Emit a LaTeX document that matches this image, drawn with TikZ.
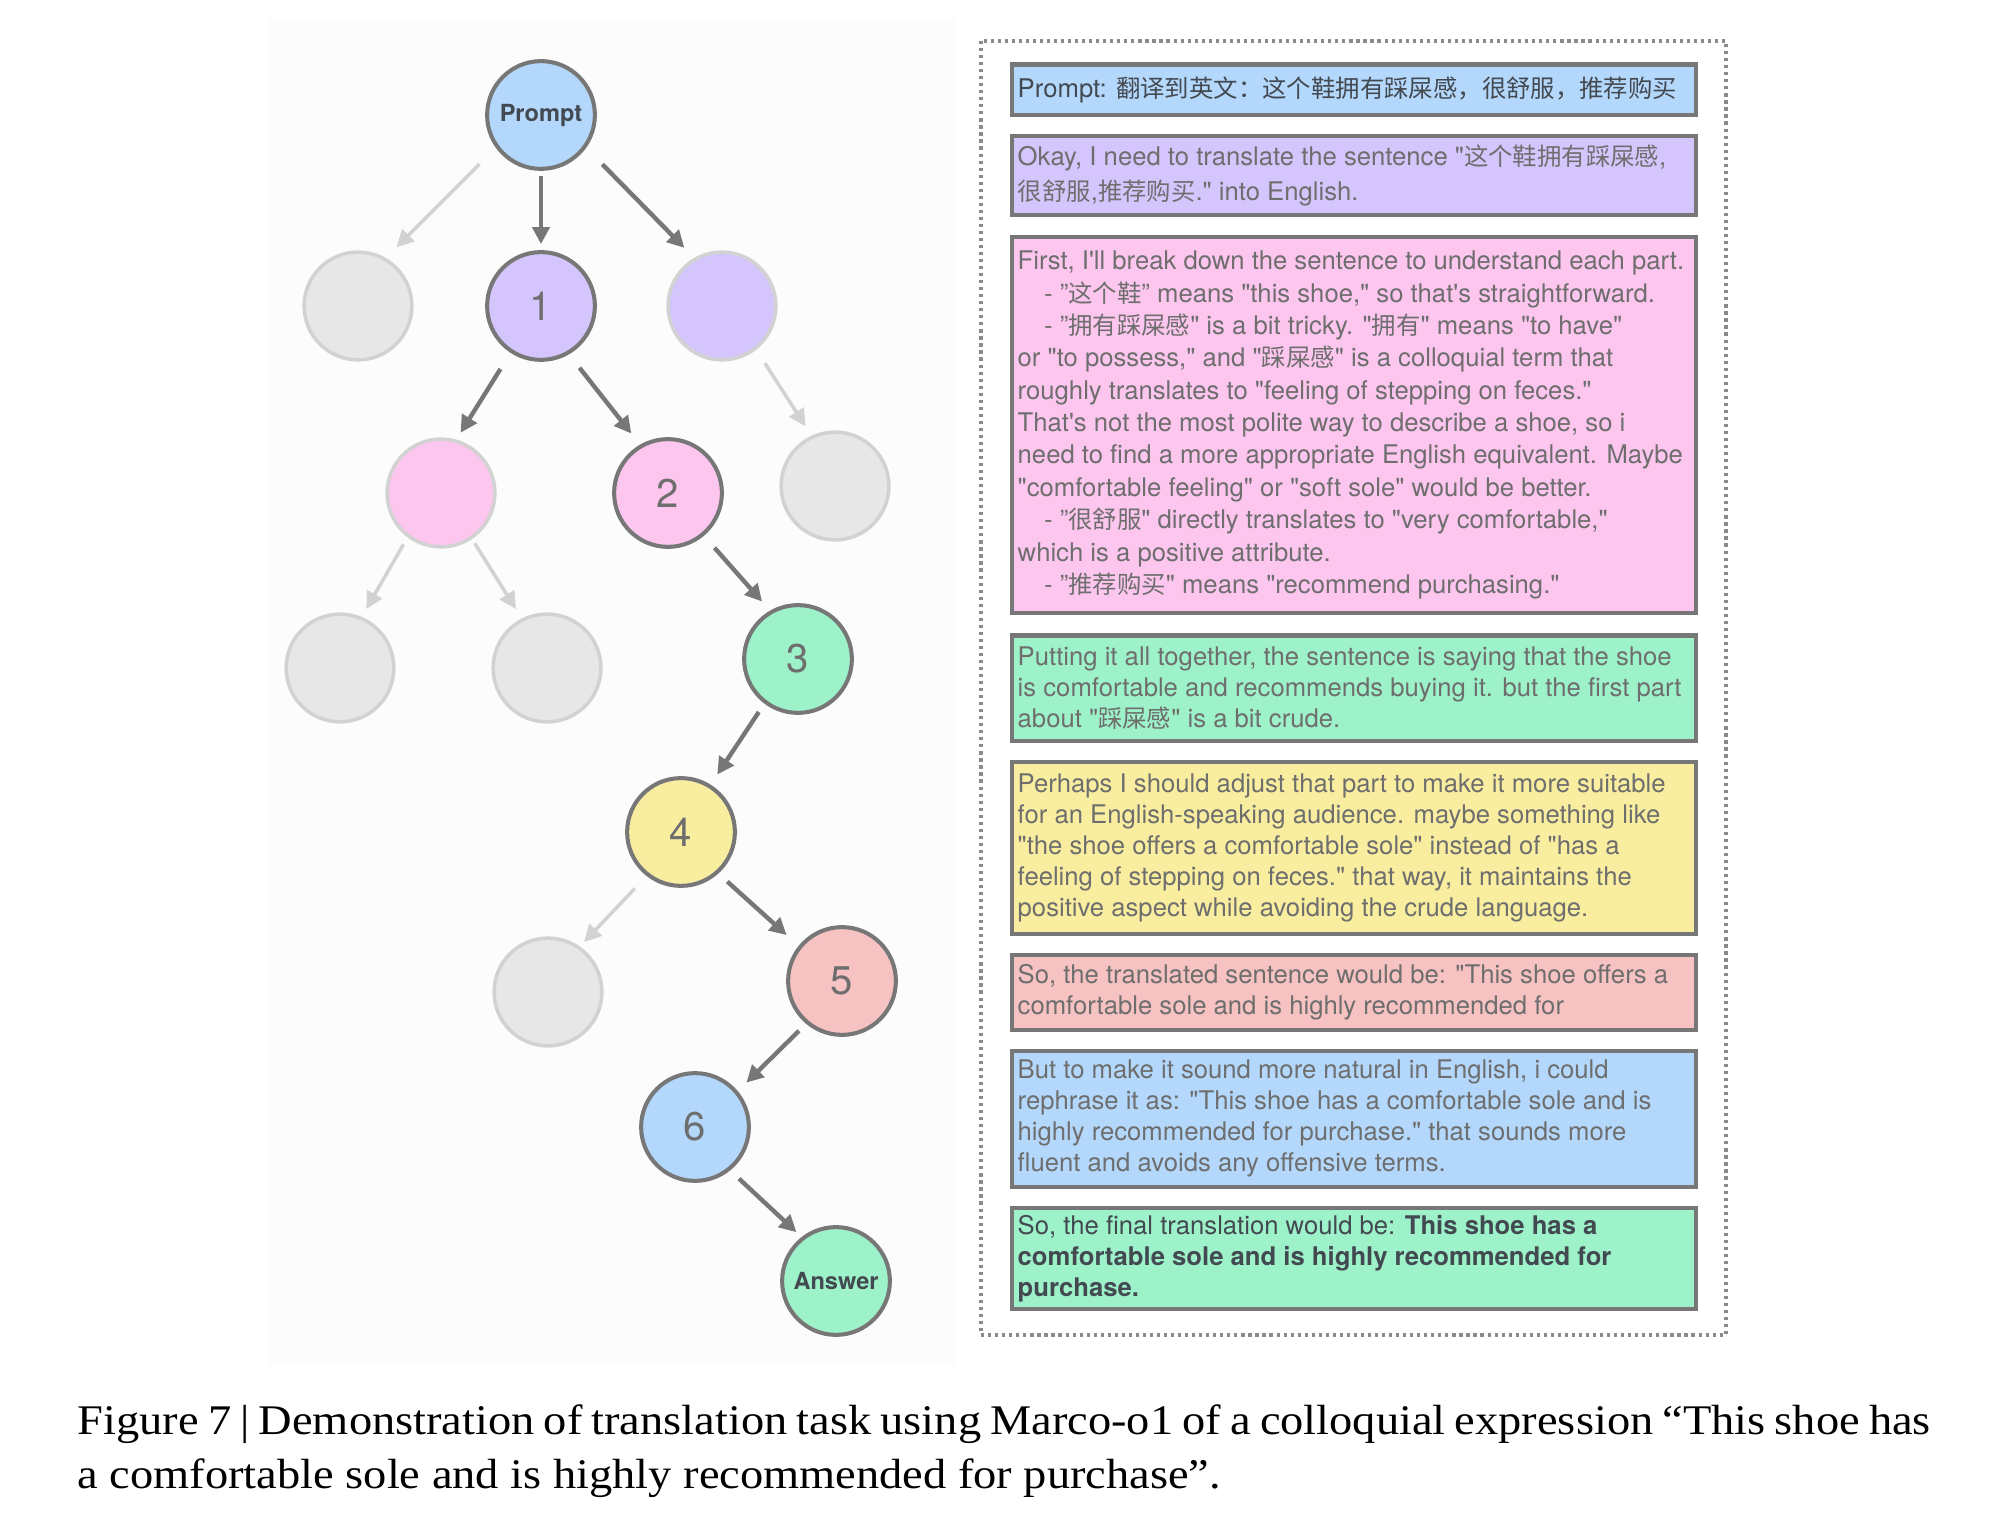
\documentclass[tikz,border=0pt]{standalone}
\usepackage{fontspec}
\setmainfont{Liberation Serif}
\newfontfamily\capfont{Liberation Serif}[FakeStretch=1.10]
\newfontfamily\hel{TeX Gyre Heros}[Ligatures=TeXOff]
\newfontfamily\cjk{Noto Sans CJK SC}[Scale=0.95]
\newcommand{\zh}[1]{{\cjk #1}}
\usepackage{tikz}
\usetikzlibrary{arrows.meta}

\definecolor{cBlue}{HTML}{B3D8FB}
\definecolor{cPurple}{HTML}{D4C5FD}
\definecolor{cPink}{HTML}{FDC6EE}
\definecolor{cGreen}{HTML}{9EF2C9}
\definecolor{cYellow}{HTML}{F9EE9F}
\definecolor{cRed}{HTML}{F6C2C2}
\definecolor{cGrey}{HTML}{E7E7E7}
\definecolor{edge}{HTML}{777777}
\definecolor{faint}{HTML}{D2D2D2}
\definecolor{dots}{HTML}{8A8A8A}
\definecolor{txtgrey}{HTML}{6E6E6E}
\definecolor{txtdark}{HTML}{434951}

\tikzset{
  state/.style={circle, draw=edge, line width=1.15pt, minimum size=1.077cm, inner sep=0pt,
    font=\hel\fontsize{11.4}{12}\selectfont, text=txtgrey},
  pruned/.style={state, draw=faint, fill=cGrey, line width=1pt},
  endpt/.style={state, font=\hel\bfseries\fontsize{6.7}{8}\selectfont, text=txtdark},
  arr/.style={draw=edge, line width=1.25pt, -{Triangle[length=0.17cm,width=0.17cm]}},
  farr/.style={arr, draw=faint, line width=1pt},
  box/.style={draw=edge, line width=1.25pt, anchor=north west, minimum width=6.84cm, inner sep=0pt},
  txt/.style={anchor=west, align=left, inner sep=0pt, text=txtgrey,
    font=\hel\fontsize{7.3}{8.8}\selectfont},
}

\begin{document}
\begin{tikzpicture}[x=0.01cm, y=-0.01cm]
  \useasboundingbox (0,0) rectangle (2000,1528);
  % backdrop of the tree
  \fill[black!1] (268,20) rectangle (955,1365);

  % search tree
  \node[endpt, fill=cBlue] (prompt) at (541,115) {Prompt};
  \node[pruned] (g1) at (358,306) {};
  \node[state, fill=cPurple] (s1) at (541,306) {1};
  \node[pruned, fill=cPurple] (v1) at (722,306) {};
  \node[pruned, fill=cPink] (k1) at (441,493) {};
  \node[state, fill=cPink] (s2) at (668,493) {2};
  \node[pruned] (g2) at (835,486) {};
  \node[pruned] (g3) at (340,668) {};
  \node[pruned] (g4) at (547,668) {};
  \node[state, fill=cGreen] (s3) at (798,659) {3};
  \node[state, fill=cYellow] (s4) at (681,832) {4};
  \node[pruned] (g5) at (548,992) {};
  \node[state, fill=cRed] (s5) at (842,981) {5};
  \node[state, fill=cBlue] (s6) at (695,1127) {6};
  \node[endpt, fill=cGreen] (answer) at (836,1281) {Answer};

  % edges
  \draw[farr, shorten <=0.23cm, shorten >=0.15cm] (prompt.216) -- (g1.60);
  \draw[arr, shorten <=0.05cm, shorten >=0.06cm] (prompt.south) -- (s1.north);
  \draw[arr, shorten <=0.23cm, shorten >=0.14cm] (prompt.-36) -- (v1.120);
  \draw[arr, shorten <=0.19cm, shorten >=0.08cm] (s1.237) -- (k1.74);
  \draw[arr, shorten <=0.17cm, shorten >=0.14cm] (s1.-60) -- (s2.120);
  \draw[farr, shorten <=0.16cm, shorten >=0.11cm] (v1.-52) -- (g2.115);
  \draw[farr, shorten <=0.08cm, shorten >=0.09cm] (k1.233) -- (g3.67);
  \draw[farr, shorten <=0.05cm, shorten >=0.11cm] (k1.-56) -- (g4.117);
  \draw[arr, shorten <=0.16cm, shorten >=0.12cm] (s2.-50) -- (s3.120);
  \draw[arr, shorten <=0.10cm, shorten >=0.12cm] (s3.233) -- (s4.58);
  \draw[farr, shorten <=0.17cm, shorten >=0.06cm] (s4.232) -- (g5.55);
  \draw[arr, shorten <=0.12cm, shorten >=0.16cm] (s4.-48) -- (s5.141);
  \draw[arr, shorten <=0.10cm, shorten >=0.12cm] (s5.230) -- (s6.40);
  \draw[arr, shorten <=0.12cm, shorten >=0.07cm] (s6.-51) -- (answer.128);

  % reasoning steps
  \draw[draw=dots, line width=0.9pt, dash pattern=on 0.9pt off 1.1pt] (981,41) rectangle (1726,1335);

  \node[box, fill=cBlue, minimum height=0.50cm] (b1) at (1009.5,62.5) {};
  \node[txt, text=txtdark] (t1) at ([xshift=0.075cm]b1.west)
    {Prompt: \zh{翻译到英文：这个鞋拥有踩屎感，很舒服，推荐购买}};

  \node[box, fill=cPurple, minimum height=0.785cm] (b2) at (1009.5,134) {};
  \node[txt] (t2) at ([xshift=0.075cm]b2.west)
    {Okay, I need to translate the sentence "\zh{这个鞋拥有踩屎感},\\[1.2pt]
     \zh{很舒服},\zh{推荐购买}." into English.};

  \node[box, fill=cPink, minimum height=3.755cm] (b3) at (1009.5,235) {};
  \node[txt, font=\hel\fontsize{7.3}{9.2}\selectfont] (t3) at ([xshift=0.075cm]b3.west)
    {First, I'll break down the sentence to understand each part.\\
     \hspace*{7.5pt}- ”\zh{这个鞋}” means "this shoe," so that's straightforward.\\
     \hspace*{7.5pt}- ”\zh{拥有踩屎感}" is a bit tricky. "\zh{拥有}" means "to have"\\
     or "to possess," and "\zh{踩屎感}" is a colloquial term that\\
     roughly translates to "feeling of stepping on feces."\\
     That's not the most polite way to describe a shoe, so i\\
     need to find a more appropriate English equivalent. Maybe\\
     "comfortable feeling" or "soft sole" would be better.\\
     \hspace*{7.5pt}- ”\zh{很舒服}" directly translates to "very comfortable,"\\
     which is a positive attribute.\\
     \hspace*{7.5pt}- ”\zh{推荐购买}" means "recommend purchasing."};

  \node[box, fill=cGreen, minimum height=1.05cm] (b4) at (1009.5,633.5) {};
  \node[txt] (t4) at ([xshift=0.075cm]b4.west)
    {Putting it all together, the sentence is saying that the shoe\\
     is comfortable and recommends buying it. but the first part\\
     about "\zh{踩屎感}" is a bit crude.};

  \node[box, fill=cYellow, minimum height=1.715cm] (b5) at (1009.5,760) {};
  \node[txt] (t5) at ([xshift=0.075cm]b5.west)
    {Perhaps I should adjust that part to make it more suitable\\
     for an English-speaking audience. maybe something like\\
     "the shoe offers a comfortable sole" instead of "has a\\
     feeling of stepping on feces." that way, it maintains the\\
     positive aspect while avoiding the crude language.};

  \node[box, fill=cRed, minimum height=0.745cm] (b6) at (1009.5,953) {};
  \node[txt] (t6) at ([xshift=0.075cm]b6.west)
    {So, the translated sentence would be: "This shoe offers a\\
     comfortable sole and is highly recommended for};

  \node[box, fill=cBlue, minimum height=1.36cm] (b7) at (1009.5,1048.5) {};
  \node[txt] (t7) at ([xshift=0.075cm]b7.west)
    {But to make it sound more natural in English, i could\\
     rephrase it as: "This shoe has a comfortable sole and is\\
     highly recommended for purchase." that sounds more\\
     fluent and avoids any offensive terms.};

  \node[box, fill=cGreen, minimum height=1.015cm] (b8) at (1009.5,1205.5) {};
  \node[txt, text=txtdark] (t8) at ([xshift=0.075cm]b8.west)
    {So, the final translation would be: \textbf{This shoe has a}\\
     \textbf{comfortable sole and is highly recommended for}\\
     \textbf{purchase.}};

  % caption (base anchor sits on the last line)
  \node[anchor=base west, inner sep=0pt, align=left, font=\capfont\fontsize{12}{15.1}\selectfont] (caption) at (77,1488)
    {\makebox[18.52cm][s]{Figure 7 | Demonstration of translation task using Marco-o1 of a colloquial expression “This shoe has}\\
     a comfortable sole and is highly recommended for purchase”.};
\end{tikzpicture}
\end{document}
